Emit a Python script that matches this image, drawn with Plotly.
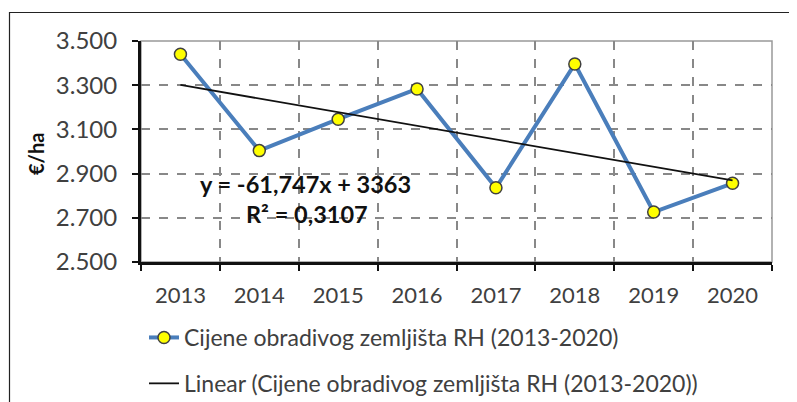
import plotly.graph_objects as go

years = ["2013", "2014", "2015", "2016", "2017", "2018", "2019", "2020"]
prices = [3440, 3004, 3146, 3283, 2836, 3396, 2726, 2856]
trend_slope = -61.747
trend_intercept = 3363
y_ticks = [2500, 2700, 2900, 3100, 3300, 3500]
series_name = "Cijene obradivog zemljišta RH (2013-2020)"
trend_name = "Linear (Cijene obradivog zemljišta RH (2013-2020))"
eq_text = "y = -61,747x + 3363"
r2_text = "R² = 0,3107"
y_title = "€/ha"

trend_vals = [trend_slope * (i + 1) + trend_intercept for i in range(len(years))]

FONT = "Lato"
TXT = "#404040"
OFF = 8  # page body margin
W, H = 797, 402
# plot area in screen pixels
SL, SR, ST, SB = 141, 772, 41, 262
L, T = SL - OFF, ST - OFF
R, B = W - (SR - OFF), H - (SB - OFF)
PW, PH = SR - SL, SB - ST


def px(sx):
    return (sx - SL) / PW


def py(sy):
    return (SB - sy) / PH


fig = go.Figure()
fig.add_trace(go.Scatter(
    x=years, y=prices, name=series_name, mode="lines+markers",
    line=dict(color="#4A7EBB", width=4),
    marker=dict(color="#FFFF00", size=12, line=dict(color="#404040", width=1.5)),
    legendgroup="a",
))
fig.add_trace(go.Scatter(
    x=years, y=trend_vals, name=trend_name, mode="lines",
    line=dict(color="#111111", width=1.8),
    legendgroup="b",
))

fig.add_annotation(x=px(305), y=py(184), xref="paper", yref="paper", text=eq_text,
                   showarrow=False, xanchor="center", yanchor="middle",
                   font=dict(family=FONT, size=23.5, color="#111111", weight="bold"))
fig.add_annotation(x=px(307), y=py(214), xref="paper", yref="paper", text=r2_text,
                   showarrow=False, xanchor="center", yanchor="middle",
                   font=dict(family=FONT, size=23.5, color="#111111", weight="bold"))
fig.add_annotation(x=px(36), y=py(154), xref="paper", yref="paper", text=y_title,
                   showarrow=False, textangle=-90, xanchor="center", yanchor="middle",
                   font=dict(family=FONT, size=20, color="#111111", weight="bold"))

# outer frame
fig.add_shape(type="rect", xref="paper", yref="paper",
              x0=px(9.5), x1=px(830), y0=py(430), y1=py(12.5),
              line=dict(color="#222222", width=1.2), layer="below")
# plot area border
fig.add_shape(type="rect", xref="paper", yref="paper", x0=0, x1=1, y0=0, y1=1,
              line=dict(color="#999999", width=1.5), layer="below")

fig.update_layout(
    width=W, height=H,
    margin=dict(l=L, r=R, t=T, b=B, autoexpand=False),
    paper_bgcolor="white", plot_bgcolor="white",
    separators=",.",
    font=dict(family=FONT, size=16, color=TXT),
    showlegend=True,
    legend=dict(x=px(144), y=py(316), xanchor="left", yanchor="top",
                orientation="v", tracegroupgap=13,
                font=dict(family=FONT, size=23, color=TXT),
                bgcolor="rgba(0,0,0,0)"),
)
fig.update_xaxes(
    type="category", range=[-0.5, 7.5], tickson="boundaries", automargin=False,
    showgrid=True, gridcolor="#888888", griddash="dash", gridwidth=1.5,
    showline=True, linecolor="#111111", linewidth=3,
    ticks="outside", ticklen=6, tickwidth=2, tickcolor="#111111",
    ticklabelstandoff=12,
    tickfont=dict(family=FONT, size=22, color=TXT),
    zeroline=False, fixedrange=True,
)
fig.update_yaxes(
    range=[2500, 3500], tickvals=y_ticks, tickformat=",d", automargin=False,
    showgrid=True, gridcolor="#888888", griddash="dash", gridwidth=1.5,
    showline=True, linecolor="#111111", linewidth=3,
    ticks="outside", ticklen=6, tickwidth=2, tickcolor="#111111",
    ticklabelstandoff=10,
    tickfont=dict(family=FONT, size=24, color=TXT),
    zeroline=False, fixedrange=True,
)

fig.write_html("out.html")
